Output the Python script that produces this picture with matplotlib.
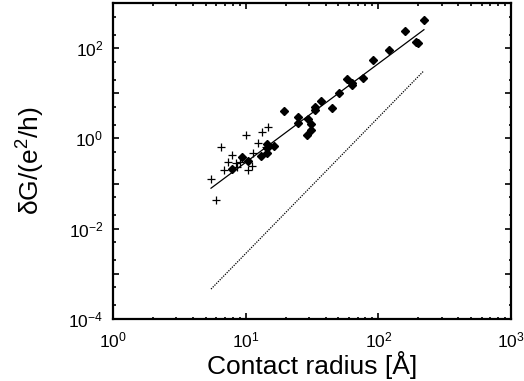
import math
import matplotlib
matplotlib.use("Agg")
import matplotlib.pyplot as plt
from matplotlib.ticker import LogLocator, FixedLocator, FuncFormatter, NullFormatter

plt.rcParams['font.family'] = ['Liberation Sans', 'DejaVu Sans']
plt.rcParams['mathtext.fontset'] = 'custom'
plt.rcParams['mathtext.rm'] = 'Liberation Sans'
plt.rcParams['mathtext.it'] = 'Liberation Sans:italic'
plt.rcParams['mathtext.default'] = 'regular'

# Diamonds (filled)
diam_x = [7.93, 9.38, 10.5, 13.0, 14.6, 14.6, 14.6, 16.3, 19.5, 24.6, 24.6, 29.3,
          31.0, 31.0, 29.1, 33.3, 33.3, 37.1, 44.7, 50.2, 57.7, 62.9, 62.9, 76.2,
          90.6, 120, 159.5, 192, 198, 220.6]
diam_y = [0.212, 0.397, 0.318, 0.411, 0.758, 0.61, 0.486, 0.686, 4.09, 2.97, 2.18, 2.68,
          2.11, 1.55, 1.18, 4.94, 4.31, 6.92, 4.77, 10.4, 21.0, 16.8, 15.4, 21.3,
          55.3, 89, 234, 136, 127, 411]

# Plus markers
plus_x = [14.8, 13.2, 10.0, 6.48, 12.4, 7.93, 11.4, 7.36, 9.06, 8.55, 6.90, 10.5,
          11.2, 5.48, 5.94, 14.2, 8.4]
plus_y = [1.78, 1.38, 1.20, 0.66, 0.787, 0.44, 0.472, 0.298, 0.308, 0.238, 0.201, 0.201,
          0.251, 0.127, 0.0436, 0.64, 0.283]

# Fit lines (endpoints)
fit_x = [5.48, 220.6]
fit_y = [0.079, 256]
ref_x = [5.48, 220.6]
ref_y = [4.6e-4, 31.6]

xticks = [1, 10, 100, 1000]
yticks_major = [1e-4, 1e-3, 1e-2, 1e-1, 1, 10, 100, 1000]
ylabel_exps = [-4, -2, 0, 2]

fig = plt.figure(figsize=(5.24, 3.81), dpi=100)
ax = fig.add_axes([113/524, 1-319/381, (511-113)/524, (319-3)/381])

ax.plot(fit_x, fit_y, color='black', lw=0.9)
ax.plot(ref_x, ref_y, color='black', lw=0.9, ls=(0, (1.0, 1.0)))
ax.plot(diam_x, diam_y, ls='none', marker='D', ms=4.0, color='black')
ax.plot(plus_x, plus_y, ls='none', marker='+', ms=6.2, mew=0.9, color='black')

ax.set_xscale('log')
ax.set_yscale('log')
ax.set_xlim(1, 1000)
ax.set_ylim(1e-4, 1e3)


def fmt_x(v, pos):
    e = int(round(math.log10(v)))
    return r'$10^{%d}$' % e


def fmt_y(v, pos):
    e = int(round(math.log10(v)))
    if e in ylabel_exps:
        return r'$10^{%d}$' % e
    return ''


ax.xaxis.set_major_locator(FixedLocator(xticks))
ax.xaxis.set_minor_locator(LogLocator(base=10, subs=(2, 3, 4, 5, 6, 7, 8, 9)))
ax.xaxis.set_major_formatter(FuncFormatter(fmt_x))
ax.xaxis.set_minor_formatter(NullFormatter())
ax.yaxis.set_major_locator(FixedLocator(yticks_major))
ax.yaxis.set_minor_locator(LogLocator(base=10, subs=(2, 5)))
ax.yaxis.set_major_formatter(FuncFormatter(fmt_y))
ax.yaxis.set_minor_formatter(NullFormatter())

ax.tick_params(which='both', direction='in', top=True, right=True, labelsize=12.5, width=1.2)
ax.tick_params(axis='x', which='major', length=4, pad=8)
ax.tick_params(axis='y', which='major', length=4, pad=7)
ax.tick_params(which='minor', length=1.8)
for s in ax.spines.values():
    s.set_linewidth(1.6)

ax.set_xlabel('Contact radius [Å]', fontsize=19, labelpad=1)
ax.set_ylabel(r'$\delta$G/(e$^2$/h)', fontsize=19, labelpad=15)

fig.savefig('out.png', dpi=100)
